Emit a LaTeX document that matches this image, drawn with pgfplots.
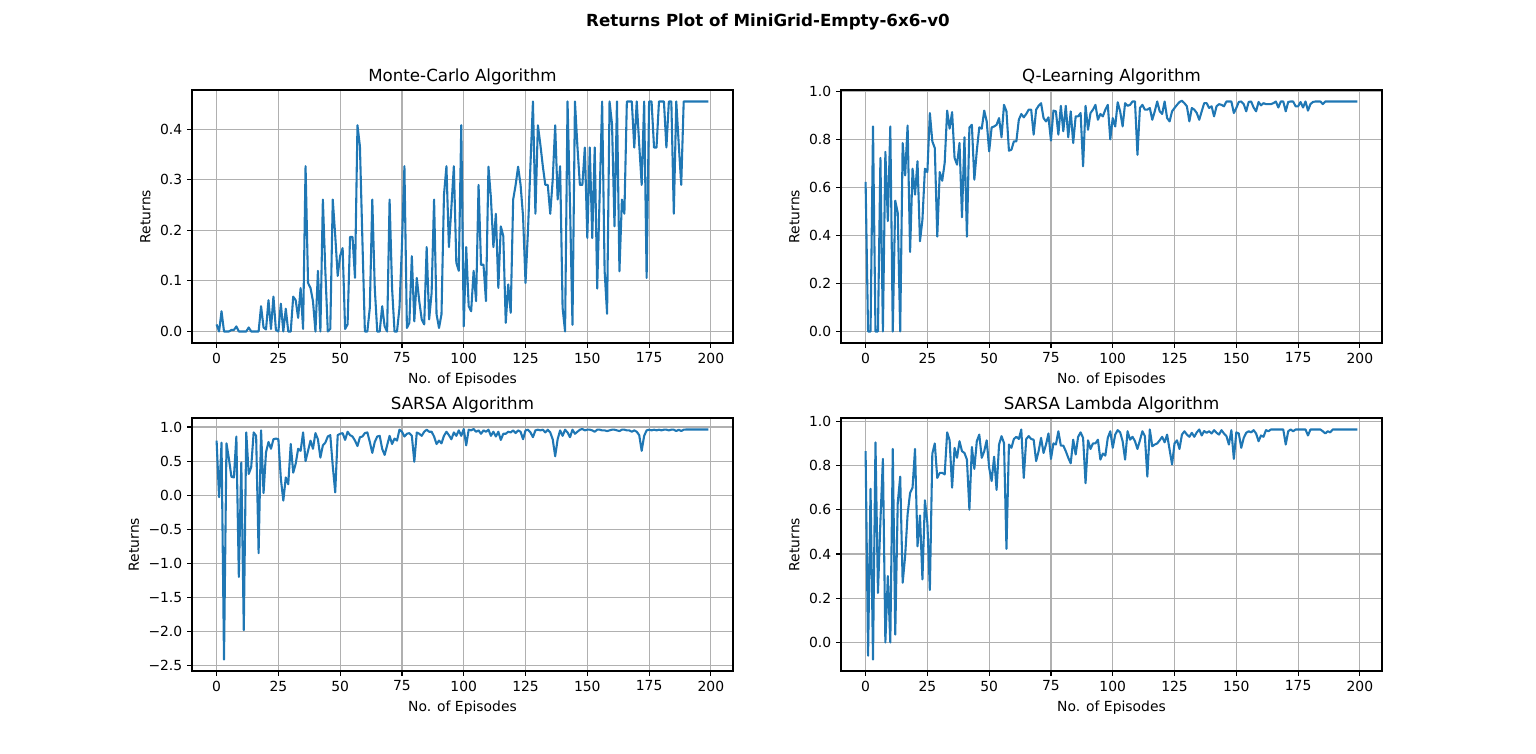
\documentclass[border=0pt]{standalone}
\usepackage{pgfplots}
\usepackage{pgfplotstable}
\pgfplotsset{compat=1.18}
\usepackage{fontspec}
\setmainfont{DejaVu Sans}
\definecolor{mplblue}{HTML}{1F77B4}
\definecolor{mplgrid}{HTML}{B0B0B0}

\pgfplotstableread{
ep mc ql sa sl
0 0.014 0.623 0.80 0.865
1 0 0 -0.03 -0.06
2 0.04 0 0.77 0.695
3 0 0.854 -2.41 -0.077
4 0 0 0.76 0.905
5 0 0 0.53 0.224
6 0.003 0.723 0.27 0.55
7 0.003 0 0.26 0.83
8 0.01 0.748 0.86 0.0
9 0 0.46 -1.20 0.30
10 0 0.854 0.48 0.0
11 0 0 -1.98 0.875
12 0 0.545 0.92 0.036
13 0.008 0.494 0.31 0.63
14 0 0 0.41 0.75
15 0 0.785 0.92 0.27
16 0 0.65 0.87 0.39
17 0 0.858 -0.85 0.58
18 0.05 0.331 0.95 0.676
19 0.008 0.678 0.03 0.70
20 0.004 0.57 0.63 0.875
21 0.062 0.709 0.78 0.435
22 0.005 0.376 0.68 0.574
23 0.069 0.466 0.82 0.285
24 0.003 0.678 0.83 0.643
25 0 0.664 0.82 0.54
26 0.055 0.91 0.24 0.237
27 0 0.792 -0.08 0.854
28 0.045 0.764 0.26 0.90
29 0 0.395 0.16 0.744
30 0 0.664 0.75 0.767
31 0.069 0.628 0.33 0.767
32 0.062 0.702 0.46 0.76
33 0.027 0.92 0.68 0.95
34 0.086 0.845 0.65 0.914
35 0.005 0.914 0.92 0.70
36 0.327 0.723 0.50 0.88
37 0.096 0.695 0.65 0.835
38 0.086 0.785 0.80 0.91
39 0.06 0.476 0.68 0.865
40 0 0.809 0.91 0.857
41 0.12 0.395 0.82 0.827
42 0 0.85 0.55 0.60
43 0.261 0.861 0.73 0.884
44 0.12 0.632 0.77 0.785
45 0 0.753 0.86 0.91
46 0.005 0.85 0.88 0.94
47 0.261 0.845 0.43 0.835
48 0.19 0.92 0.04 0.865
49 0.11 0.875 0.88 0.914
50 0.15 0.75 0.90 0.79
51 0.165 0.85 0.91 0.73
52 0.005 0.854 0.81 0.84
53 0.014 0.861 0.93 0.69
54 0.187 0.889 0.88 0.895
55 0.187 0.809 0.86 0.933
56 0.106 0.944 0.80 0.902
57 0.408 0.917 0.72 0.423
58 0.366 0.753 0.85 0.895
59 0.18 0.757 0.86 0.88
60 0 0.792 0.91 0.92
61 0 0.792 0.92 0.93
62 0.047 0.882 0.78 0.92
63 0.261 0.906 0.62 0.963
64 0.086 0.892 0.78 0.744
65 0 0.906 0.86 0.92
66 0 0.924 0.87 0.933
67 0.05 0.924 0.68 0.92
68 0.01 0.82 0.59 0.917
69 0 0.924 0.73 0.82
70 0.261 0.94 0.87 0.865
71 0.086 0.951 0.75 0.925
72 0 0.889 0.83 0.857
73 0 0.875 0.80 0.895
74 0.047 0.892 0.96 0.945
75 0.17 0.795 0.93 0.83
76 0.327 0.92 0.86 0.90
77 0.007 0.917 0.90 0.895
78 0.017 0.82 0.91 0.955
79 0.149 0.94 0.87 0.89
80 0.02 0.834 0.49 0.89
81 0.106 0.94 0.92 0.865
82 0.06 0.809 0.90 0.835
83 0.024 0.917 0.87 0.81
84 0.014 0.785 0.93 0.917
85 0.167 0.896 0.96 0.85
86 0.024 0.896 0.93 0.93
87 0.076 0.91 0.93 0.95
88 0.261 0.688 0.86 0.925
89 0.034 0.94 0.75 0.72
90 0.007 0.84 0.80 0.914
91 0.034 0.91 0.76 0.875
92 0.27 0.924 0.87 0.90
93 0.327 0.944 0.93 0.90
94 0.167 0.882 0.88 0.917
95 0.245 0.906 0.82 0.827
96 0.327 0.896 0.92 0.854
97 0.136 0.924 0.87 0.845
98 0.12 0.944 0.95 0.925
99 0.408 0.8 0.87 0.955
100 0.01 0.889 0.97 0.88
101 0.167 0.854 0.73 0.94
102 0.05 0.955 0.96 0.96
103 0.04 0.917 0.95 0.95
104 0.12 0.854 0.97 0.91
105 0.06 0.951 0.93 0.827
106 0.29 0.94 0.95 0.955
107 0.132 0.944 0.90 0.917
108 0.132 0.958 0.95 0.93
109 0.06 0.958 0.93 0.91
110 0.326 0.736 0.96 0.875
111 0.264 0.931 0.87 0.914
112 0.167 0.944 0.93 0.955
113 0.233 0.924 0.86 0.933
114 0.086 0.924 0.93 0.75
115 0.208 0.931 0.81 0.963
116 0.189 0.882 0.90 0.887
117 0.017 0.917 0.90 0.895
118 0.093 0.958 0.93 0.90
119 0.037 0.917 0.92 0.914
120 0.261 0.906 0.95 0.93
121 0.29 0.958 0.91 0.905
122 0.326 0.889 0.95 0.94
123 0.29 0.875 0.93 0.872
124 0.228 0.917 0.82 0.805
125 0.096 0.931 0.95 0.90
126 0.2 0.944 0.96 0.914
127 0.33 0.956 0.92 0.875
128 0.455 0.961 0.85 0.94
129 0.233 0.951 0.95 0.955
130 0.408 0.938 0.96 0.94
131 0.37 0.875 0.95 0.93
132 0.327 0.931 0.96 0.948
133 0.29 0.924 0.92 0.93
134 0.29 0.91 0.96 0.95
135 0.233 0.882 0.92 0.963
136 0.3 0.917 0.82 0.936
137 0.408 0.951 0.57 0.956
138 0.261 0.951 0.82 0.948
139 0.327 0.931 0.95 0.955
140 0.047 0.938 0.87 0.945
141 0 0.896 0.96 0.96
142 0.455 0.938 0.92 0.948
143 0.25 0.947 0.85 0.94
144 0.013 0.944 0.96 0.96
145 0.455 0.938 0.90 0.945
146 0.366 0.958 0.93 0.933
147 0.29 0.958 0.96 0.895
148 0.29 0.958 0.97 0.96
149 0.364 0.91 0.95 0.83
150 0.185 0.931 0.96 0.95
151 0.364 0.956 0.96 0.945
152 0.185 0.958 0.95 0.88
153 0.364 0.947 0.93 0.925
154 0.085 0.917 0.96 0.948
155 0.27 0.956 0.96 0.955
156 0.455 0.958 0.95 0.95
157 0.12 0.933 0.95 0.96
158 0.035 0.917 0.94 0.945
159 0.455 0.956 0.95 0.91
160 0.41 0.942 0.96 0.936
161 0.208 0.951 0.96 0.93
162 0.455 0.947 0.95 0.96
163 0.119 0.947 0.94 0.955
164 0.261 0.947 0.96 0.963
165 0.233 0.951 0.96 0.963
166 0.455 0.958 0.95 0.963
167 0.455 0.933 0.95 0.963
168 0.455 0.958 0.93 0.963
169 0.364 0.958 0.95 0.963
170 0.455 0.917 0.93 0.895
171 0.37 0.956 0.88 0.955
172 0.29 0.958 0.65 0.963
173 0.455 0.958 0.87 0.955
174 0.106 0.938 0.95 0.963
175 0.455 0.938 0.96 0.963
176 0.455 0.956 0.95 0.963
177 0.364 0.933 0.96 0.963
178 0.364 0.958 0.95 0.963
179 0.455 0.92 0.96 0.936
180 0.455 0.947 0.95 0.963
181 0.455 0.956 0.96 0.963
182 0.364 0.958 0.96 0.963
183 0.455 0.958 0.95 0.963
184 0.455 0.958 0.96 0.963
185 0.233 0.947 0.96 0.955
186 0.455 0.958 0.94 0.945
187 0.37 0.958 0.96 0.955
188 0.29 0.958 0.94 0.95
189 0.455 0.958 0.96 0.963
190 0.455 0.958 0.963 0.963
191 0.455 0.958 0.963 0.963
192 0.455 0.958 0.963 0.963
193 0.455 0.958 0.963 0.963
194 0.455 0.958 0.963 0.963
195 0.455 0.958 0.963 0.963
196 0.455 0.958 0.963 0.963
197 0.455 0.958 0.963 0.963
198 0.455 0.958 0.963 0.963
199 0.455 0.958 0.963 0.963
}\returns

\pgfplotsset{
  sub/.style={
    scale only axis, width=389.52pt, height=182.16pt, anchor=south west,
    xmin=-9.95, xmax=208.95, xtick={0,25,50,75,100,125,150,175,200},
    grid=major, major grid style={color=mplgrid, line width=0.8pt},
    axis line style={line width=0.8pt},
    tick style={black, line width=0.8pt}, major tick length=3.5pt,
    tick align=outside, tick pos=left,
    ticklabel style={font=\fontsize{10}{12}\selectfont},
    /pgf/number format/assume math mode=true,
    title style={at={(0.5,1)}, anchor=base, yshift=0.3pt, inner sep=0pt, font=\fontsize{12}{14}\selectfont},
    label style={font=\fontsize{10}{12}\selectfont},
    xlabel={No. of Episodes}, ylabel={Returns},
  },
  ret/.style={color=mplblue, line width=1.5pt, line join=round, no marks},
}

\begin{document}
\begin{tikzpicture}
\path[use as bounding box] (0,0) rectangle (1105.92pt,542.88pt);
\node[anchor=base, font=\bfseries\fontsize{12}{14}\selectfont] at (552.96pt,523.44pt) {Returns Plot of MiniGrid-Empty-6x6-v0};

\begin{axis}[sub, at={(138.24pt,295.92pt)}, title={Monte-Carlo Algorithm},
  ymin=-0.02275, ymax=0.47775, ytick={0,0.1,0.2,0.3,0.4},
  yticklabels={0.0,0.1,0.2,0.3,0.4}]
\addplot[ret] table[x=ep, y=mc] {\returns};
\end{axis}

\begin{axis}[sub, at={(605.52pt,295.92pt)}, title={Q-Learning Algorithm},
  ymin=-0.0479, ymax=1.0059, ytick={0,0.2,0.4,0.6,0.8,1.0},
  yticklabels={0.0,0.2,0.4,0.6,0.8,1.0}]
\addplot[ret] table[x=ep, y=ql] {\returns};
\end{axis}

\begin{axis}[sub, at={(138.24pt,59.76pt)}, title={SARSA Algorithm},
  ymin=-2.5787, ymax=1.1317, ytick={-2.5,-2,-1.5,-1,-0.5,0,0.5,1},
  yticklabels={−2.5,−2.0,−1.5,−1.0,−0.5,0.0,0.5,1.0}]
\addplot[ret] table[x=ep, y=sa] {\returns};
\end{axis}

\begin{axis}[sub, at={(605.52pt,59.76pt)}, title={SARSA Lambda Algorithm},
  ymin=-0.129, ymax=1.015, ytick={0,0.2,0.4,0.6,0.8,1.0},
  yticklabels={0.0,0.2,0.4,0.6,0.8,1.0}]
\addplot[ret] table[x=ep, y=sl] {\returns};
\end{axis}
\end{tikzpicture}
\end{document}
